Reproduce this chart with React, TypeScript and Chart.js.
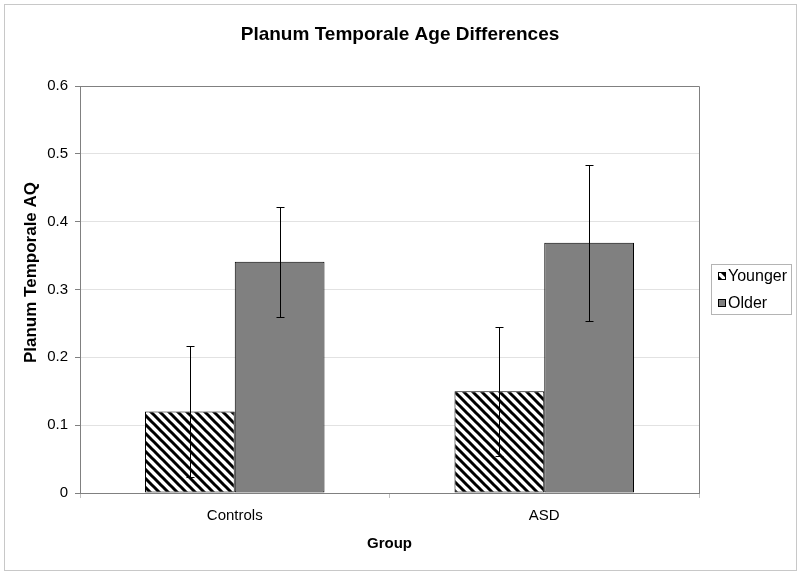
import React, { useEffect, useRef } from 'react';
import { Chart, registerables } from 'chart.js';
Chart.register(...registerables);

const categories = ['Controls', 'ASD'];
const seriesNames = ['Younger', 'Older'];
const youngerValues = [0.12, 0.15];
const olderValues = [0.341, 0.369];
const youngerErrors = [0.096, 0.095];
const olderErrors = [0.081, 0.115];
const yTickLabels = ['0', '0.1', '0.2', '0.3', '0.4', '0.5', '0.6'];
const chartTitle = 'Planum Temporale Age Differences';
const xTitle = 'Group';
const yTitle = 'Planum Temporale AQ';

const FONT = "'Liberation Sans', Arial, sans-serif";
const OLDER_COLOR = '#808080';

function makeHatch(): CanvasPattern | string {
  const c = document.createElement('canvas');
  c.width = 9;
  c.height = 9;
  const g = c.getContext('2d');
  if (!g) return '#fff';
  g.fillStyle = '#fff';
  g.fillRect(0, 0, 9, 9);
  g.strokeStyle = '#000';
  g.lineWidth = 3;
  g.beginPath();
  for (const o of [-9, 0, 9]) {
    g.moveTo(o - 2, -2);
    g.lineTo(o + 11, 11);
  }
  g.stroke();
  return g.createPattern(c, 'repeat') || '#fff';
}

export default function App() {
  const ref = useRef<HTMLCanvasElement>(null);
  useEffect(() => {
    document.body.style.margin = '0';
    const canvas = ref.current;
    if (!canvas) return;
    const hatch = makeHatch();
    const errors = [youngerErrors, olderErrors];

    const bgPlugin = {
      id: 'bg',
      beforeDraw(chart: any) {
        const { ctx } = chart;
        ctx.save();
        ctx.fillStyle = '#fff';
        ctx.fillRect(0, 0, chart.width, chart.height);
        ctx.strokeStyle = '#c8c8c8';
        ctx.lineWidth = 1;
        ctx.strokeRect(4.5, 4.5, 792, 566);
        ctx.restore();
      },
      afterDraw(chart: any) {
        const { ctx, chartArea: a } = chart;
        ctx.save();
        ctx.strokeStyle = '#808080';
        ctx.lineWidth = 1;
        ctx.beginPath();
        ctx.moveTo(Math.round(a.left) + 0.5, Math.round(a.top) + 0.5);
        ctx.lineTo(Math.round(a.right) + 0.5, Math.round(a.top) + 0.5);
        ctx.lineTo(Math.round(a.right) + 0.5, Math.round(a.bottom) + 0.5);
        ctx.stroke();
        // chart title
        ctx.fillStyle = '#000';
        ctx.font = `bold 19px ${FONT}`;
        ctx.textAlign = 'center';
        ctx.textBaseline = 'alphabetic';
        ctx.fillText(chartTitle, 400, 40);
        // y axis title
        ctx.save();
        ctx.translate(31, 272.5);
        ctx.rotate(-Math.PI / 2);
        ctx.font = `bold 17px ${FONT}`;
        ctx.textBaseline = 'middle';
        ctx.fillText(yTitle, 0, 0);
        ctx.restore();
        ctx.restore();
      },
    };

    const errPlugin = {
      id: 'errbars',
      afterDatasetsDraw(chart: any) {
        const { ctx } = chart;
        const ys = chart.scales.y;
        ctx.save();
        ctx.strokeStyle = '#000';
        ctx.lineWidth = 1;
        chart.data.datasets.forEach((ds: any, di: number) => {
          const meta = chart.getDatasetMeta(di);
          meta.data.forEach((el: any, i: number) => {
            const v = ds.data[i];
            const e = errors[di][i];
            const x = Math.round(el.x) + 0.5;
            const yt = Math.round(ys.getPixelForValue(v + e)) + 0.5;
            const yb = Math.round(ys.getPixelForValue(v - e)) + 0.5;
            ctx.beginPath();
            ctx.moveTo(x, yt);
            ctx.lineTo(x, yb);
            ctx.moveTo(x - 4, yt);
            ctx.lineTo(x + 4, yt);
            ctx.moveTo(x - 4, yb);
            ctx.lineTo(x + 4, yb);
            ctx.stroke();
          });
        });
        ctx.restore();
      },
    };

    const legendPlugin = {
      id: 'customLegend',
      afterDraw(chart: any) {
        const { ctx } = chart;
        ctx.save();
        ctx.strokeStyle = '#b4b4b4';
        ctx.lineWidth = 1;
        ctx.strokeRect(711.5, 264.5, 80, 50);
        ctx.font = `16px ${FONT}`;
        ctx.textBaseline = 'middle';
        ctx.textAlign = 'left';
        const rows = [276, 303];
        chart.data.datasets.forEach((ds: any, i: number) => {
          const cy = rows[i];
          ctx.fillStyle = ds.backgroundColor;
          ctx.fillRect(718, cy - 4, 8, 8);
          ctx.strokeStyle = '#000';
          ctx.strokeRect(718.5, cy - 3.5, 7, 7);
          ctx.fillStyle = '#000';
          ctx.fillText(ds.label, 728, cy + 1);
        });
        ctx.restore();
      },
    };

    const chart = new Chart(canvas, {
      type: 'bar',
      data: {
        labels: categories,
        datasets: [
          {
            label: seriesNames[0],
            data: youngerValues,
            backgroundColor: hatch as any,
            borderColor: '#000',
            borderWidth: 1,
            borderSkipped: false,
          },
          {
            label: seriesNames[1],
            data: olderValues,
            backgroundColor: OLDER_COLOR,
            borderColor: '#000',
            borderWidth: 1,
            borderSkipped: false,
          },
        ],
      },
      options: {
        responsive: false,
        animation: false,
        devicePixelRatio: 1,
        layout: { padding: { top: 86, right: 101, bottom: 0, left: 0 } },
        datasets: { bar: { barPercentage: 1, categoryPercentage: 0.58 } },
        plugins: {
          legend: { display: false },
          tooltip: { enabled: false },
          title: { display: false },
        },
        scales: {
          x: {
            type: 'category',
            afterFit(s: any) {
              s.height = 83;
            },
            grid: {
              display: true,
              offset: true,
              drawOnChartArea: false,
              drawTicks: true,
              tickLength: 5,
              tickColor: '#c0c0c0',
            },
            border: { display: true, color: '#808080', width: 1 },
            ticks: {
              color: '#000',
              font: { family: FONT, size: 15 },
              padding: 9,
            },
            title: {
              display: true,
              text: xTitle,
              color: '#000',
              font: { family: FONT, size: 15, weight: 'bold' },
              padding: { top: 0, bottom: 23.5 },
            },
          },
          y: {
            min: 0,
            max: 0.6,
            afterFit(s: any) {
              s.width = 80;
            },
            grid: {
              color: '#e2e2e2',
              tickColor: '#808080',
              tickLength: 5,
            },
            border: { display: true, color: '#808080', width: 1 },
            ticks: {
              stepSize: 0.1,
              color: '#000',
              font: { family: FONT, size: 15 },
              padding: 7,
              callback: (_v: any, i: number) => yTickLabels[i],
            },
            title: { display: false },
          },
        },
      },
      plugins: [bgPlugin, errPlugin, legendPlugin],
    });
    return () => chart.destroy();
  }, []);
  return <canvas ref={ref} width={800} height={576} style={{ display: 'block' }} />;
}
